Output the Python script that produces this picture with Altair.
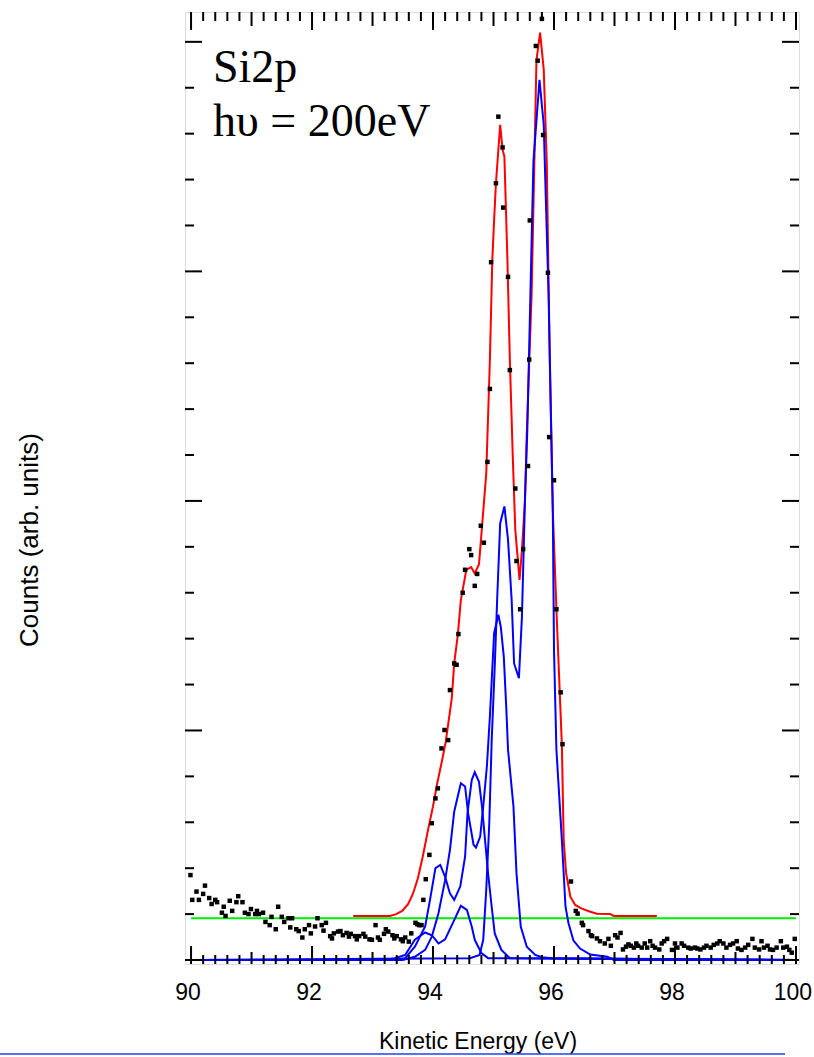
import altair as alt
import pandas as pd

# ---- measured data (kinetic energy in eV, counts in arbitrary tick units) ----
data_x = [89.99, 90.02, 90.09, 90.13, 90.20, 90.23, 90.30, 90.34, 90.40, 90.43,
          90.51, 90.54, 90.57, 90.64, 90.68, 90.75, 90.78, 90.85, 90.89, 90.95,
          90.99, 91.06, 91.09, 91.12, 91.19, 91.23, 91.30, 91.33, 91.40, 91.44,
          91.50, 91.54, 91.61, 91.64, 91.67, 91.74, 91.78, 91.84, 91.88, 91.95,
          91.98, 92.05, 92.09, 92.16, 92.19, 92.23, 92.30, 92.33, 92.36, 92.43,
          92.47, 92.51, 92.57, 92.61, 92.64, 92.71, 92.74, 92.78, 92.85, 92.88,
          92.95, 92.99, 93.05, 93.09, 93.12, 93.19, 93.22, 93.26, 93.33, 93.36,
          93.40, 93.47, 93.50, 93.54, 93.60, 93.64, 93.71, 93.74, 93.77, 93.81,
          93.84, 93.88, 93.94, 93.98, 94.04, 94.08, 94.14, 94.19, 94.25, 94.28,
          94.35, 94.39, 94.42, 94.49, 94.53, 94.60, 94.63, 94.69, 94.73, 94.79,
          94.84, 94.90, 94.94, 94.96, 95.04, 95.08, 95.15, 95.16, 95.24, 95.27,
          95.36, 95.38, 95.44, 95.49, 95.57, 95.59, 95.60, 95.70, 95.73, 95.80,
          95.82, 95.90, 95.92, 96.00, 96.04, 96.11, 96.14, 96.28, 96.36, 96.39,
          96.46, 96.48, 96.57, 96.61, 96.63, 96.71, 96.76, 96.84, 96.90, 96.94,
          97.01, 97.05, 97.10, 97.14, 97.19, 97.23, 97.27, 97.32, 97.36, 97.39,
          97.45, 97.50, 97.54, 97.59, 97.63, 97.67, 97.74, 97.78, 97.82, 97.87,
          97.95, 98.00, 98.04, 98.11, 98.15, 98.22, 98.26, 98.33, 98.37, 98.42,
          98.48, 98.52, 98.59, 98.64, 98.70, 98.74, 98.80, 98.85, 98.91, 98.96,
          99.02, 99.04, 99.10, 99.16, 99.21, 99.28, 99.32, 99.39, 99.43, 99.47,
          99.53, 99.57, 99.62, 99.68, 99.75, 99.79, 99.85, 99.89, 99.93, 99.98]
data_y = [1.85, 1.31, 1.49, 1.31, 1.44, 1.62, 1.35, 1.22, 1.31, 1.26,
          1.03, 1.16, 0.96, 1.29, 1.07, 1.26, 1.39, 1.26, 1.03, 1.00,
          1.11, 1.00, 1.07, 1.00, 1.03, 0.83, 0.76, 0.94, 0.67, 1.16,
          0.94, 0.83, 0.91, 0.71, 0.91, 0.67, 0.63, 0.49, 0.67, 0.76,
          0.58, 0.73, 0.91, 0.76, 0.64, 0.81, 0.52, 0.47, 0.58, 0.62,
          0.63, 0.54, 0.59, 0.51, 0.57, 0.52, 0.45, 0.52, 0.57, 0.51,
          0.45, 0.44, 0.76, 0.49, 0.44, 0.57, 0.67, 0.62, 0.54, 0.47,
          0.52, 0.45, 0.41, 0.49, 0.40, 0.58, 0.81, 0.78, 0.76, 0.76,
          1.31, 1.76, 2.29, 2.98, 3.52, 3.74, 4.61, 5.01, 4.79, 5.88,
          6.46, 6.43, 7.10, 8.00, 8.50, 8.95, 8.82, 8.15, 8.41, 9.46,
          9.09, 10.85, 12.44, 15.20, 16.92, 18.37, 17.70, 16.39, 14.88, 12.85,
          10.27, 8.69, 7.64, 8.95, 10.76, 13.08, 16.11, 19.91, 19.59, 20.50,
          17.97, 14.97, 11.39, 10.45, 7.64, 5.83, 4.70, 1.71, 1.07, 1.01,
          0.81, 0.76, 0.63, 0.54, 0.52, 0.47, 0.41, 0.36, 0.46, 0.31,
          0.54, 0.49, 0.59, 0.23, 0.29, 0.34, 0.31, 0.27, 0.36, 0.31,
          0.27, 0.36, 0.27, 0.41, 0.31, 0.27, 0.23, 0.36, 0.41, 0.46,
          0.22, 0.36, 0.27, 0.36, 0.31, 0.27, 0.25, 0.27, 0.25, 0.23,
          0.27, 0.31, 0.27, 0.33, 0.36, 0.41, 0.36, 0.27, 0.33, 0.36,
          0.41, 0.25, 0.22, 0.27, 0.33, 0.46, 0.27, 0.23, 0.41, 0.27,
          0.31, 0.23, 0.22, 0.27, 0.41, 0.27, 0.29, 0.22, 0.16, 0.46]

fit_x = [92.68, 93.29, 93.39, 93.49, 93.59, 93.67, 93.75, 93.83, 93.92, 94.00,
         94.07, 94.15, 94.21, 94.31, 94.35, 94.41, 94.46, 94.55, 94.63, 94.69,
         94.76, 94.81, 94.88, 94.94, 94.98, 95.01, 95.04, 95.11, 95.15, 95.18,
         95.23, 95.27, 95.32, 95.36, 95.43, 95.47, 95.52, 95.55, 95.63, 95.71,
         95.77, 95.83, 95.88, 95.93, 95.98, 96.04, 96.13, 96.16, 96.20, 96.27,
         96.35, 96.46, 96.60, 96.71, 96.93, 96.99, 97.70]
fit_y = [0.96, 0.96, 1.00, 1.07, 1.22, 1.45, 1.78, 2.25, 2.85, 3.35,
         3.85, 4.35, 4.75, 5.70, 6.46, 7.08, 7.84, 8.50, 8.56, 8.42,
         8.62, 9.44, 10.60, 13.07, 15.25, 16.12, 16.92, 18.19, 17.65, 17.50,
         15.25, 13.07, 10.90, 9.37, 8.28, 8.93, 10.02, 11.50, 14.50, 19.60,
         20.20, 19.40, 17.40, 13.07, 9.80, 7.63, 4.68, 2.61, 1.89, 1.38,
         1.20, 1.12, 1.05, 1.01, 1.00, 0.96, 0.96]

c1_x = [90.00, 94.61, 94.77, 94.83, 94.88, 94.93, 94.97, 95.02, 95.06, 95.11,
        95.18, 95.24, 95.30, 95.34, 95.42, 95.47, 95.52, 95.56, 95.66, 95.76,
        95.83, 95.91, 95.98, 96.00, 96.04, 96.13, 96.19, 96.24, 96.32, 96.43,
        96.60, 96.88, 96.99, 100.00]
c1_y = [0.00, 0.04, 0.11, 0.44, 1.53, 2.98, 4.79, 6.39, 7.84, 9.51,
        9.88, 9.15, 7.84, 6.46, 6.14, 7.48, 10.02, 11.60, 17.40, 19.17,
        18.20, 14.50, 9.80, 6.75, 4.58, 2.61, 1.16, 0.80, 0.43, 0.25,
        0.12, 0.07, 0.00, 0.00]

c2_x = [90.00, 93.50, 93.70, 93.87, 93.98, 94.09, 94.20, 94.28, 94.35, 94.46,
        94.53, 94.58, 94.67, 94.71, 94.78, 94.83, 94.89, 94.94, 95.01, 95.08,
        95.12, 95.17, 95.21, 95.24, 95.33, 95.38, 95.45, 95.55, 95.69, 95.80,
        95.96, 100.00]
c2_y = [0.00, 0.00, 0.07, 0.22, 0.51, 1.02, 1.74, 2.40, 3.23, 3.85,
        3.78, 3.20, 2.51, 2.45, 2.69, 3.34, 4.21, 5.30, 7.12, 7.52,
        7.26, 6.61, 5.52, 4.58, 3.34, 1.89, 0.73, 0.29, 0.11, 0.06,
        0.04, 0.00]

c3_x = [90.00, 93.40, 93.54, 93.70, 93.87, 93.95, 94.04, 94.12, 94.20, 94.28,
        94.35, 94.45, 94.53, 94.57, 94.64, 94.69, 94.76, 94.81, 94.86, 94.91,
        94.97, 95.02, 95.13, 95.27, 100.00]
c3_y = [0.00, 0.00, 0.04, 0.29, 0.73, 1.31, 2.00, 2.07, 1.81, 1.45,
        1.31, 1.60, 2.25, 3.20, 3.92, 4.09, 3.88, 3.34, 2.61, 1.89,
        1.16, 0.58, 0.22, 0.04, 0.00]

c4_x = [90.00, 93.20, 93.37, 93.54, 93.70, 93.87, 93.98, 94.09, 94.20, 94.35,
        94.46, 94.56, 94.64, 94.69, 94.80, 94.91, 100.00]
c4_y = [0.00, 0.00, 0.04, 0.11, 0.44, 0.60, 0.54, 0.36, 0.45, 0.87,
        1.18, 1.09, 0.73, 0.44, 0.15, 0.04, 0.00]

bg_x = [90.0, 100.0]
bg_y = [0.91, 0.91]

x_labels = [90, 92, 94, 96, 98, 100]
x_ticks_major = [90, 92, 94, 96, 98, 100]
x_ticks_mid = [91, 93, 95, 97, 99]
x_ticks_minor = [round(90 + 0.2 * i, 1) for i in range(51) if i % 5 != 0]
y_ticks_major = [0, 5, 10, 15, 20]
y_ticks_minor = [v for v in range(21) if v % 5 != 0]

# ---- layout ----
W, H = 614, 952
xs = alt.Scale(domain=[89.9, 100.05], nice=False, zero=False)
ys = alt.Scale(domain=[-0.087, 20.65], nice=False, zero=False)
SANS = "Liberation Sans, Arial, sans-serif"
SERIF = "Liberation Serif, Times New Roman, serif"


def line_df(xv, yv, name):
    return pd.DataFrame({"x": xv, "y": yv, "s": name})


pts = pd.DataFrame({"x": data_x, "y": data_y})
comps = pd.concat([line_df(c1_x, c1_y, "c1"), line_df(c2_x, c2_y, "c2"),
                   line_df(c3_x, c3_y, "c3"), line_df(c4_x, c4_y, "c4")])
fit = line_df(fit_x, fit_y, "fit")
bg = line_df(bg_x, bg_y, "bg")

X = alt.X("x:Q", scale=xs, axis=None)
Y = alt.Y("y:Q", scale=ys, axis=None)

bg_layer = alt.Chart(bg).mark_line(color="#00ee00", strokeWidth=2).encode(x=X, y=Y)
fit_layer = alt.Chart(fit).mark_line(color="#ff0000", strokeWidth=2).encode(x=X, y=Y)
comp_layer = alt.Chart(comps).mark_line(color="#0000ff", strokeWidth=2).encode(
    x=X, y=Y, detail="s:N")
pt_layer = alt.Chart(pts).mark_square(size=20, color="black", opacity=1).encode(x=X, y=Y)


# tick marks drawn inward on all four sides
def xt(vals, length, top):
    d = pd.DataFrame({"x": vals})
    if top:
        return alt.Chart(d).mark_rule(color="black", strokeWidth=2).encode(
            x=X, y=alt.value(0), y2=alt.value(length))
    return alt.Chart(d).mark_rule(color="black", strokeWidth=2).encode(
        x=X, y=alt.value(H), y2=alt.value(H - length))


def yt(vals, length, right):
    d = pd.DataFrame({"y": vals})
    if right:
        return alt.Chart(d).mark_rule(color="black", strokeWidth=2).encode(
            y=Y, x=alt.value(W), x2=alt.value(W - length))
    return alt.Chart(d).mark_rule(color="black", strokeWidth=2).encode(
        y=Y, x=alt.value(0), x2=alt.value(length))


ticks = [xt(x_ticks_major, 18, True), xt(x_ticks_mid, 14, True), xt(x_ticks_minor, 9, True),
         xt(x_ticks_major, 18, False), xt(x_ticks_mid, 12, False), xt(x_ticks_minor, 9, False),
         yt(y_ticks_major, 17, False), yt(y_ticks_minor, 9, False),
         yt(y_ticks_major, 17, True), yt(y_ticks_minor, 9, True)]

# bottom tick labels
lab = pd.DataFrame({"x": x_labels, "t": [str(v) for v in x_labels]})
lab_layer = alt.Chart(lab).mark_text(font=SANS, fontSize=23, align="center",
                                     baseline="alphabetic", color="black", dx=-3).encode(
    x=X, y=alt.value(H + 36), text="t:N")

xtitle = alt.Chart(pd.DataFrame({"t": ["Kinetic Energy (eV)"]})).mark_text(
    font=SANS, fontSize=23, align="center", baseline="alphabetic", color="black").encode(
    x=alt.value(293), y=alt.value(H + 85), text="t:N")

ann = pd.DataFrame({"t": ["Si2p", "h\u03c5 = 200eV"], "py": [70, 124]})
ann_layer = alt.Chart(ann).mark_text(font=SERIF, fontSize=46, align="left",
                                     baseline="alphabetic", color="black").encode(
    x=alt.value(28), y=alt.Y("py:Q", scale=None), text="t:N")

ytitle = alt.Chart(pd.DataFrame({"t": ["Counts (arb. units)"]})).mark_text(
    font=SANS, fontSize=26, angle=270, align="center", baseline="middle",
    color="black").encode(x=alt.value(-155), y=alt.value(528), text="t:N")

underline = alt.Chart(pd.DataFrame({"a": [0]})).mark_rule(color="#2040ff", strokeWidth=1.5).encode(
    x=alt.value(-185), x2=alt.value(600), y=alt.value(H + 90))

chart = alt.layer(bg_layer, fit_layer, comp_layer, pt_layer, *ticks, lab_layer, xtitle,
                  ann_layer, ytitle, underline).properties(
    width=W, height=H,
    autosize=alt.AutoSizeParams(type="none"),
    padding={"left": 185, "top": 12, "right": 15, "bottom": 93},
).configure_view(stroke="black", strokeWidth=2).configure(background="white")

chart.save("out.html", embed_options={"renderer": "svg", "actions": False})
